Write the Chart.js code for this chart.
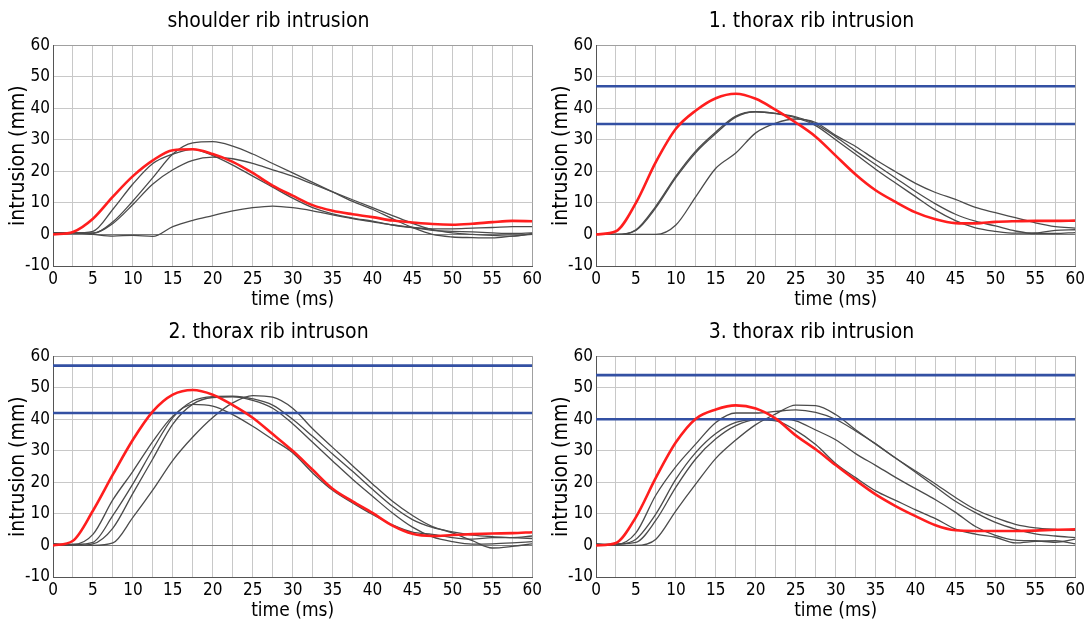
<!DOCTYPE html>
<html>
<head>
<meta charset="utf-8">
<script src="https://cdn.jsdelivr.net/npm/chart.js@4.4.1/dist/chart.umd.min.js"></script>
<style>
  body { margin: 0; background: #fff; width: 1091px; height: 623px; position: relative; overflow: hidden; }
  canvas { position: absolute; }
</style>
</head>
<body>
<canvas id="c1" width="545" height="311" style="left:0;top:0"></canvas>
<canvas id="c2" width="545" height="311" style="left:543px;top:0"></canvas>
<canvas id="c3" width="545" height="311" style="left:0;top:311px"></canvas>
<canvas id="c4" width="545" height="311" style="left:543px;top:311px"></canvas>
<script>
// time axis (ms)
const time = [0,2.5,5,7.5,10,12.5,15,17.5,20,22.5,25,27.5,30,32.5,35,37.5,40,42.5,45,47.5,50,52.5,55,57.5,60];

// shoulder rib intrusion (mm)
const shoulderRed = [0,0.8,5,12,18.5,23.5,26.7,27,25.5,23,19.5,15.5,12.3,9.3,7.5,6.4,5.5,4.4,3.8,3.3,3.1,3.4,3.9,4.3,4.2];
const shoulderA = [0.5,0.5,0.3,4,10.6,18,25.5,29,29.4,28,25.5,22.5,19.5,16.5,13.5,10.5,8,5,2.2,0,-0.8,-1,-1.1,-0.5,0];
const shoulderB = [0.5,0.5,1,8,16,22.5,25.5,27,25,22,18.5,15,11.5,8.5,6.5,5.2,4.2,3,2.2,1.8,1.8,2,2.2,2.5,2.5];
const shoulderC = [0.5,0.5,0.5,3.5,9.5,16,20.5,23.5,24.5,24,22.5,20.5,18.5,16,13.5,11,8.5,6,3.5,1.5,0.5,0,-0.3,-0.5,0.3];
const shoulderD = [0.5,0.5,0,-0.5,-0.3,-0.6,2.5,4.5,6,7.5,8.5,9,8.5,7.5,6.2,5,4,3,2.2,1.3,1,0.8,0.5,0.3,0.5];

// 1. thorax rib
const thorax1Red = [0,1,10,23,33.5,39.3,43.2,44.6,43,39.5,35.5,31,25,19,14,10.3,7,4.8,3.6,3.5,4,4.2,4.3,4.3,4.4];
const thorax1A = [0,0,1.5,9,18.5,26.5,32.5,37.5,38.9,38.3,37,34.5,30,25.4,20.7,16.3,12,7.7,4.4,2.1,1,0.4,0.5,1.3,1.5];
const thorax1B = [0,0,1.3,8.5,18,26,32,37.2,38.9,38.4,37.3,35,31,26.5,22.2,17.9,13.6,9.7,6.4,4.2,2.7,1.1,0.3,0.3,0.6];
const thorax1C = [0,0,0,0,3,12,21,25.8,32.2,35.3,36.6,35.5,31.4,27.9,23.7,19.9,16.2,13.3,11.1,8.6,6.9,5.3,3.7,2.5,2];
const thorax1Limits = [47, 35];

// 2. thorax rib
const thorax2Red = [0,1.5,11,22.5,33.5,42.5,47.8,49.3,47.8,44.5,40.5,35.3,30,24,18,14,10.3,6.3,3.7,3,3.3,3.6,3.8,3.9,4.2];
const thorax2A = [0.5,0.3,3.5,14.5,23.5,33,41,44.7,44.2,41.5,37.8,33.6,29.4,23,17.5,13.5,9.8,6.5,4.2,3.5,2.5,2,2.5,2.5,3];
const thorax2B = [0,0.3,1,9.5,19.5,30.5,40.5,45.8,47.2,47.3,46.5,44.5,40,34.6,29,23.5,17.8,12.4,8.2,5.7,4.3,3.3,2.8,2.5,2.2];
const thorax2C = [0.5,0,0.5,5.5,16.5,27.5,38.5,44.8,46.9,47.1,46,43.5,38.6,32.7,26.8,21,15.6,10.3,5.8,2.7,1.2,0.4,0.5,0.8,1.2];
const thorax2D = [0.5,0,0,0.8,8.9,17.6,27,34.4,40.6,45.2,47.5,47,43.5,37,31.1,25.3,19.5,14,9.5,6,4,1.5,-0.8,-0.3,0.5];
const thorax2Limits = [57, 42];

// 3. thorax rib
const thorax3Red = [0,0.8,9,21.5,32.7,40.2,43.1,44.4,43.4,40.2,34.9,30.5,25.5,20.7,16.2,12.5,9.3,6.4,4.8,4.6,4.6,4.6,4.7,5,5.1];
const thorax3A = [0.5,0.3,4,16,25,32.2,39,42,42,42.5,43,42.2,40,36.3,32.2,27.7,23.2,18.6,14,10.4,7.3,5.2,3.7,3,2.5];
const thorax3B = [0.5,0,0,2,11,19.5,27.6,33.4,38.3,41.7,44.5,44.3,41.5,36.7,32.2,27.7,23.6,19.5,15.2,11.4,8.8,6.7,5.6,5.1,4.8];
const thorax3C = [0,0.3,2,10,21,29.5,35.5,39,40,40.1,39.5,36.6,33.5,29.1,25.4,21.6,18,14.5,10.5,6,3.2,1.7,1.5,1,2];
const thorax3D = [0,0.5,1,8,18.5,27.5,33.8,38,39.8,39.5,36.5,32,26,21.5,17.3,14.3,11.3,8.5,5.2,3.6,2.6,0.8,1.3,1.5,0.5];
const thorax3Limits = [54, 40];

const narrow = "'Liberation Sans Narrow', 'Arial Narrow', 'DejaVu Sans Condensed', sans-serif";

function pts(values) {
  return values.map((v, i) => ({ x: time[i], y: v }));
}

function makeChart(id, title, red, grays, limits) {
  const datasets = [{ data: pts(red), borderColor: '#ff1e1e', borderWidth: 2.6 }];
  limits.forEach(v => {
    datasets.push({ data: [{ x: 0, y: v }, { x: 60, y: v }], borderColor: '#3350a3', borderWidth: 2.6, tension: 0 });
  });
  grays.forEach(g => {
    datasets.push({ data: pts(g), borderColor: '#4b4b4b', borderWidth: 1.3 });
  });

  new Chart(document.getElementById(id), {
    type: 'line',
    data: { datasets: datasets },
    options: {
      responsive: false,
      animation: false,
      devicePixelRatio: 1,
      layout: { padding: { right: 8 } },
      elements: {
        point: { radius: 0 },
        line: { tension: 0.4, cubicInterpolationMode: 'monotone', fill: false }
      },
      plugins: {
        legend: { display: false },
        tooltip: { enabled: false },
        title: {
          display: true, text: title, color: '#000',
          font: { family: narrow, size: 21, weight: 'normal' },
          padding: { top: 9, bottom: 11 }
        }
      },
      scales: {
        x: {
          type: 'linear', min: 0, max: 60,
          afterFit: s => { s.height = 45; },
          ticks: {
            stepSize: 2.5, autoSkip: false, maxRotation: 0, padding: 3, color: '#000',
            font: { family: narrow, size: 17 },
            callback: v => (v % 5 === 0 ? v : '')
          },
          grid: { color: c => (c.tick && c.tick.value === 60 ? '#a0a0a0' : '#c8c8c8'), drawTicks: false },
          border: { color: '#555' },
          title: { display: true, text: 'time (ms)', color: '#000', font: { family: narrow, size: 19 }, padding: 0 }
        },
        y: {
          min: -10, max: 60,
          afterFit: s => { s.width = 53; },
          ticks: {
            stepSize: 5, padding: 3, color: '#000',
            font: { family: narrow, size: 17 },
            callback: v => (v % 10 === 0 ? v : '')
          },
          grid: {
            color: c => (c.tick && c.tick.value === 0 ? '#777' : (c.tick && c.tick.value === 60 ? '#a0a0a0' : '#c8c8c8')),
            drawTicks: false
          },
          border: { color: '#555' },
          title: { display: true, text: 'intrusion (mm)', color: '#000', font: { family: narrow, size: 21 }, padding: { top: 6, bottom: 0 } }
        }
      }
    }
  });
}

makeChart('c1', 'shoulder rib intrusion', shoulderRed, [shoulderA, shoulderB, shoulderC, shoulderD], []);
makeChart('c2', '1. thorax rib intrusion', thorax1Red, [thorax1A, thorax1B, thorax1C], thorax1Limits);
makeChart('c3', '2. thorax rib intruson', thorax2Red, [thorax2A, thorax2B, thorax2C, thorax2D], thorax2Limits);
makeChart('c4', '3. thorax rib intrusion', thorax3Red, [thorax3A, thorax3B, thorax3C, thorax3D], thorax3Limits);
</script>
</body>
</html>
